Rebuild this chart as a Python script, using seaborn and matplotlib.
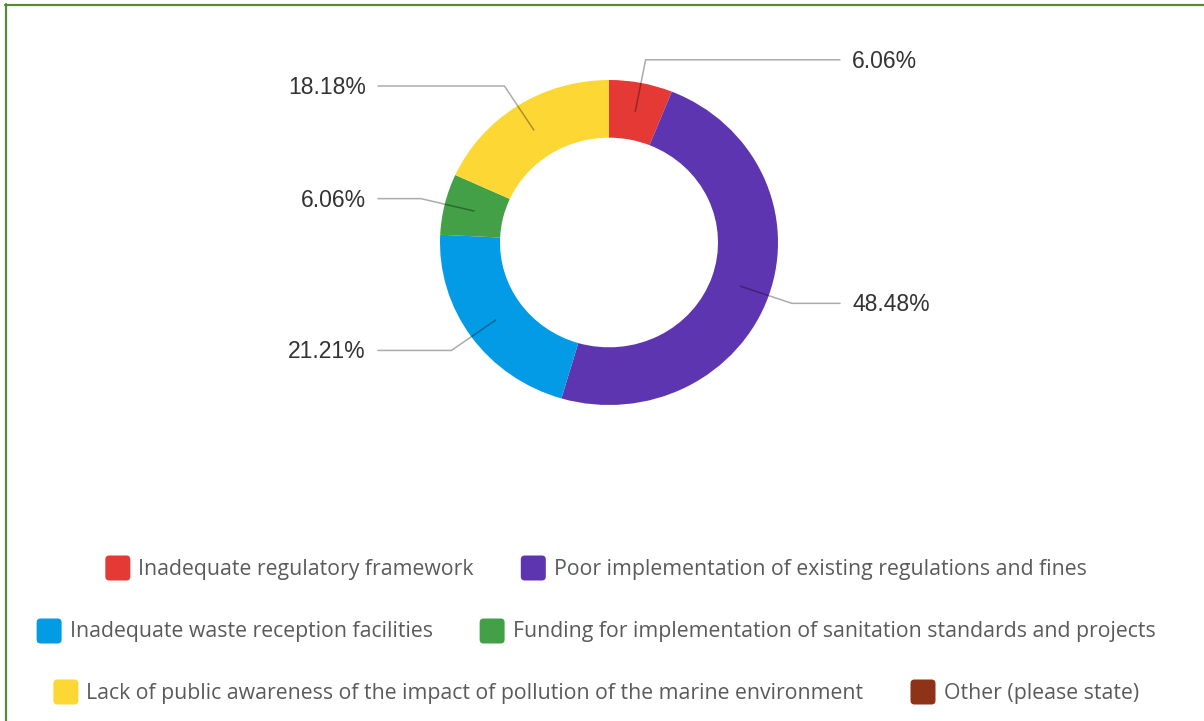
import matplotlib
matplotlib.use("Agg")
import matplotlib.pyplot as plt
import matplotlib.transforms as mtransforms
import seaborn as sns
import numpy as np
from matplotlib.patches import FancyBboxPatch
from matplotlib.lines import Line2D

# Survey answers and their shares (%)
categories = [
    "Inadequate regulatory framework",
    "Poor implementation of existing regulations and fines",
    "Inadequate waste reception facilities",
    "Funding for implementation of sanitation standards and projects",
    "Lack of public awareness of the impact of pollution of the marine environment",
    "Other (please state)",
]
shares = [6.06, 48.48, 21.21, 6.06, 18.18, 0.0]
labels = ["6.06%", "48.48%", "21.21%", "6.06%", "18.18%", "0.00%"]
colors = ["#e53935", "#5e35b1", "#039be5", "#43a047", "#fdd835", "#8f3318"]
legend_rows = [[0, 1], [2, 3], [4, 5]]

sns.set_theme(style="white")
plt.rcParams["font.family"] = ["Open Sans", "DejaVu Sans"]

W, H = 1204, 721
fig = plt.figure(figsize=(W / 100, H / 100), dpi=100)
fig.patch.set_facecolor("white")

# Donut
cx, cy, rx, ry = 609, 242.5, 169, 162.5
ring = 0.355
ax = fig.add_axes([(cx - rx) / W, (H - cy - ry) / H, 2 * rx / W, 2 * ry / H])
ax.pie(shares, colors=colors, startangle=90, counterclock=False,
       wedgeprops=dict(width=ring, edgecolor="none", linewidth=0))
ax.set_xlim(-1, 1)
ax.set_ylim(-1, 1)
ax.set_aspect("auto")
ax.axis("off")

# Leader lines and value labels
total = sum(shares)
angle = 90.0
r_in, r_elbow, x_end, x_txt = 1 - ring / 2, 1.145, 1.367, 1.438
label_tr = mtransforms.offset_copy(ax.transData, fig=fig, x=0, y=-1.5, units="dots")
for v, lab in zip(shares, labels):
    sweep = 360.0 * v / total
    mid = np.deg2rad(angle - sweep / 2)
    angle -= sweep
    if v <= 0:
        continue
    x0, y0 = r_in * np.cos(mid), r_in * np.sin(mid)
    x1, y1 = r_elbow * np.cos(mid), r_elbow * np.sin(mid)
    side = 1 if x1 >= 0 else -1
    ax.plot([x0, x1, side * x_end], [y0, y1, y1], color="black", alpha=0.33,
            lw=1.1, clip_on=False, solid_joinstyle="miter")
    ax.text(side * x_txt, y1, lab, ha="left" if side > 0 else "right", va="center",
            transform=label_tr, fontsize=16.5, color="#333333",
            family=["Liberation Sans", "DejaVu Sans"])

# Legend in pixel coordinates
lax = fig.add_axes([0, 0, 1, 1])
lax.set_xlim(0, W)
lax.set_ylim(H, 0)
lax.axis("off")
renderer = fig.canvas.get_renderer()
row_y = [569, 632, 693]
msize, mgap, igap, center = 25, 8, 47, 596
for yv, row in zip(row_y, legend_rows):
    texts = [lax.text(0, yv, categories[i], ha="left", va="center", fontsize=15.35,
                      color="#5a5a5a") for i in row]
    widths = [t.get_window_extent(renderer).width for t in texts]
    total_w = sum(msize + mgap + w for w in widths) + igap * (len(row) - 1)
    x = center - total_w / 2
    for i, t, w in zip(row, texts, widths):
        lax.add_patch(FancyBboxPatch((x, yv - 1 - msize / 2), msize, msize,
                                     boxstyle="round,pad=0,rounding_size=4",
                                     facecolor=colors[i], edgecolor="none"))
        t.set_x(x + msize + mgap)
        x += msize + mgap + w + igap

# Panel frame
frame_c = "#568a36"
fig.add_artist(Line2D([5 / W, 1], [1 - 4.5 / H] * 2, transform=fig.transFigure,
                      color=frame_c, lw=1.6))
fig.add_artist(Line2D([5.5 / W] * 2, [1 - 4 / H, 0], transform=fig.transFigure,
                      color=frame_c, lw=1.6))

fig.savefig("out.png", dpi=100, facecolor="white")
